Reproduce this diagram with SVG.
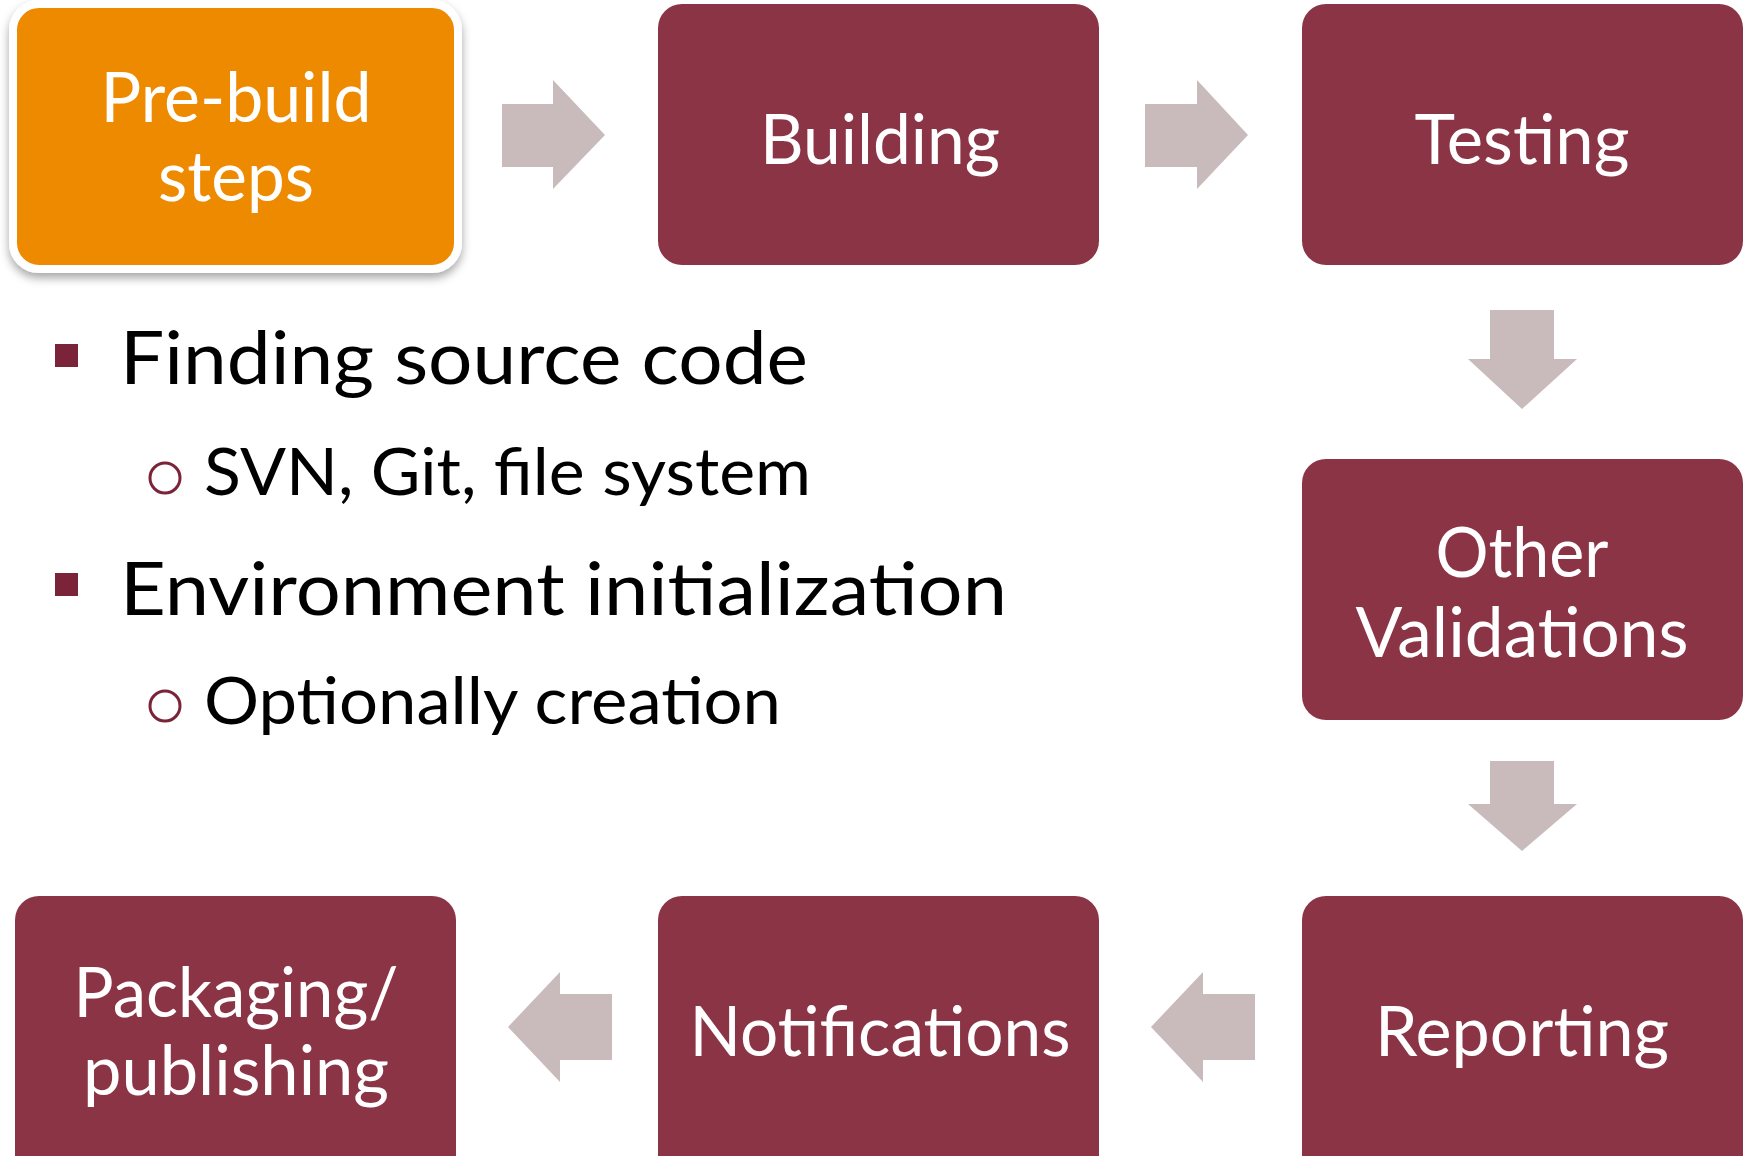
<svg xmlns="http://www.w3.org/2000/svg" width="1746" height="1156" viewBox="0 0 1746 1156">
<defs>
<filter id="sh" x="-10%" y="-10%" width="120%" height="125%">
<feDropShadow dx="0" dy="5" stdDeviation="5" flood-color="#000" flood-opacity="0.35"/>
</filter>
</defs>
<style>
.box{fill:#8B3446;}
.pre{fill:#EE8A00;stroke:#fff;stroke-width:8;}
.lbl{font-family:Lato,"Open Sans","Liberation Sans",sans-serif;font-size:69px;fill:#fff;text-anchor:middle;}
.arr{fill:#C9BBBC;}
.b1{font-family:Lato,"Open Sans","Liberation Sans",sans-serif;font-size:74px;fill:#000;}
.b2{font-family:Lato,"Open Sans","Liberation Sans",sans-serif;font-size:66px;fill:#000;}
.sq{fill:#7B2338;}
.ci{fill:none;stroke:#7B2338;stroke-width:3;}
</style>
<rect width="1746" height="1156" fill="#fff"/>
<g id="connectors">
<polygon class="arr" points="502,104 553,104 553,80 605,135 553,189 553,167 502,167"/>
<polygon class="arr" points="1145,104 1197,104 1197,80 1248,135 1197,189 1197,167 1145,167"/>
<polygon class="arr" points="1490,310 1554,310 1554,359 1577,359 1522,409 1468,359 1490,359"/>
<polygon class="arr" points="1490,761 1554,761 1554,804 1577,804 1522,851 1468,804 1490,804"/>
<polygon class="arr" points="1255,994 1203,994 1203,972 1151,1027 1203,1082 1203,1060 1255,1060"/>
<polygon class="arr" points="612,994 560,994 560,972 508,1027 560,1082 560,1060 612,1060"/>
</g>
<g id="node-prebuild">
<rect class="pre" x="13" y="4" width="445" height="265" rx="26" filter="url(#sh)"/>
<text class="lbl" x="236" y="122" textLength="271" lengthAdjust="spacingAndGlyphs">Pre-build</text>
<text class="lbl" x="236" y="201" textLength="156" lengthAdjust="spacingAndGlyphs">steps</text>
</g>
<g id="node-building">
<rect class="box" x="658" y="4" width="441" height="261" rx="24"/>
<text class="lbl" x="880" y="164" textLength="240" lengthAdjust="spacingAndGlyphs">Building</text>
</g>
<g id="node-testing">
<rect class="box" x="1302" y="4" width="441" height="261" rx="24"/>
<text class="lbl" x="1522" y="164" textLength="215" lengthAdjust="spacingAndGlyphs">Testing</text>
</g>
<g id="node-other">
<rect class="box" x="1302" y="459" width="441" height="261" rx="24"/>
<text class="lbl" x="1522" y="577" textLength="173" lengthAdjust="spacingAndGlyphs">Other</text>
<text class="lbl" x="1522" y="657" textLength="333" lengthAdjust="spacingAndGlyphs">Validations</text>
</g>
<g id="node-reporting">
<rect class="box" x="1302" y="896" width="441" height="290" rx="24"/>
<text class="lbl" x="1522" y="1056" textLength="294" lengthAdjust="spacingAndGlyphs">Reporting</text>
</g>
<g id="node-notifications">
<rect class="box" x="658" y="896" width="441" height="290" rx="24"/>
<text class="lbl" x="880" y="1056" textLength="381" lengthAdjust="spacingAndGlyphs">Notifications</text>
</g>
<g id="node-packaging">
<rect class="box" x="15" y="896" width="441" height="290" rx="24"/>
<text class="lbl" x="236" y="1017" textLength="325" lengthAdjust="spacingAndGlyphs">Packaging/</text>
<text class="lbl" x="236" y="1095" textLength="306" lengthAdjust="spacingAndGlyphs">publishing</text>
</g>
<g id="bullets">
<rect class="sq" x="55" y="344" width="23" height="23"/>
<text class="b1" x="120" y="384" textLength="688" lengthAdjust="spacingAndGlyphs">Finding source code</text>
<circle class="ci" cx="165" cy="478" r="15"/>
<text class="b2" x="204" y="495" textLength="607" lengthAdjust="spacingAndGlyphs">SVN, Git, file system</text>
<rect class="sq" x="55" y="573" width="23" height="23"/>
<text class="b1" x="120" y="615" textLength="887" lengthAdjust="spacingAndGlyphs">Environment initialization</text>
<circle class="ci" cx="165" cy="706" r="15"/>
<text class="b2" x="204" y="724" textLength="577" lengthAdjust="spacingAndGlyphs">Optionally creation</text>
</g>
</svg>
